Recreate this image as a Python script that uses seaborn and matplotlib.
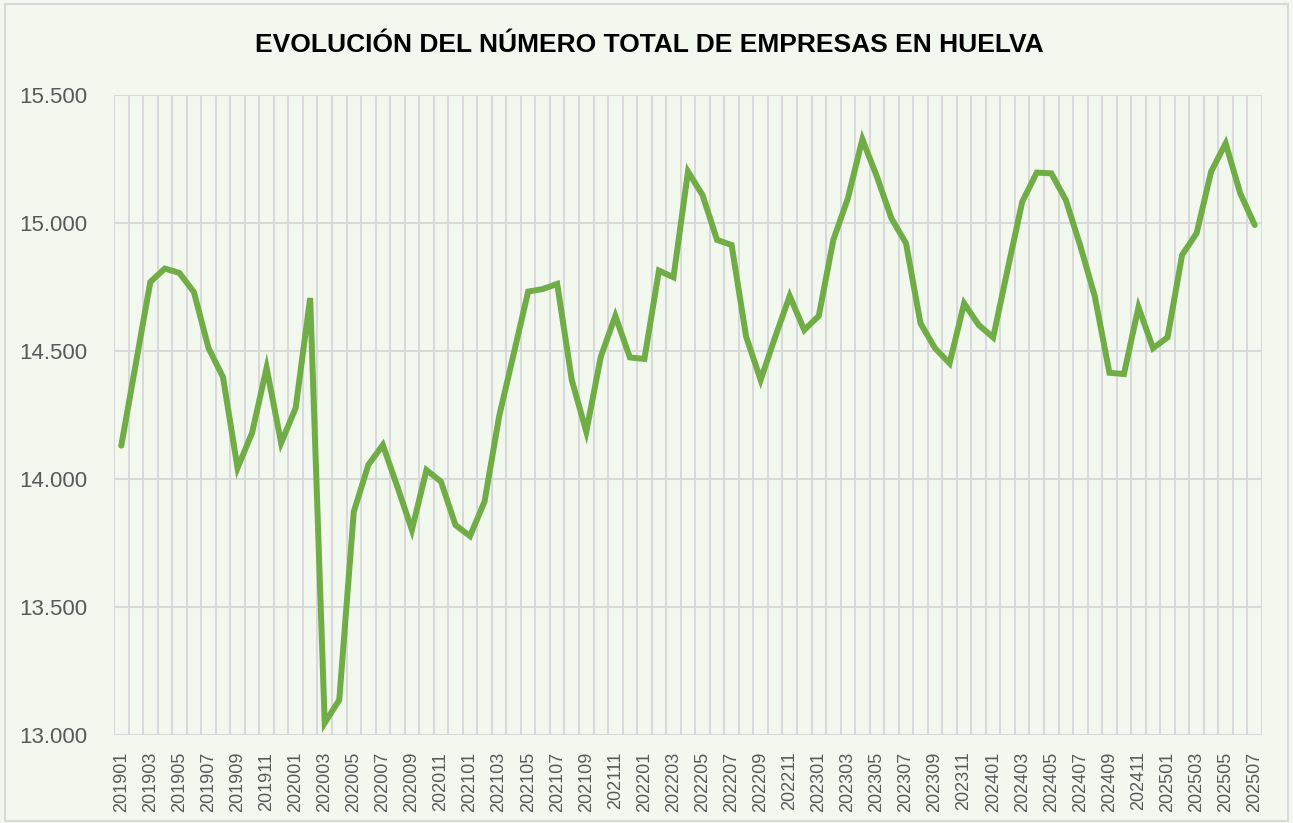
import matplotlib
matplotlib.use("Agg")
import matplotlib.pyplot as plt
from matplotlib.patches import Rectangle
from matplotlib.ticker import FixedLocator, FuncFormatter
import numpy as np
import pandas as pd
import seaborn as sns

# Monthly periods (YYYYMM) from January 2019 to July 2025
periods = [f"{y}{m:02d}" for y in range(2019, 2026) for m in range(1, 13)][:79]

# Total number of companies in Huelva, one value per month
empresas = [
    14130, 14450, 14770, 14822, 14805, 14730, 14512, 14398, 14043, 14180,
    14434, 14141, 14277, 14707, 13047, 13137, 13872, 14055, 14133, 13970,
    13801, 14035, 13990, 13820, 13777, 13912, 14244, 14488, 14732, 14742,
    14762, 14387, 14185, 14478, 14637, 14475, 14469, 14814, 14788, 15201,
    15109, 14934, 14914, 14556, 14387, 14555, 14715, 14582, 14637, 14934,
    15096, 15327, 15181, 15018, 14921, 14608, 14511, 14452, 14686, 14602,
    14553, 14820, 15083, 15197, 15194, 15090, 14910, 14712, 14415, 14410,
    14671, 14511, 14553, 14875, 14960, 15201, 15311, 15116, 14992,
]

title = "EVOLUCIÓN DEL NÚMERO TOTAL DE EMPRESAS EN HUELVA"
y_ticks = [13000, 13500, 14000, 14500, 15000, 15500]

df = pd.DataFrame({"pos": np.arange(len(periods)), "empresas": empresas})

bg = "#F3F8EF"
grid_col = "#D9D9D9"
line_col = "#70AD47"
label_col = "#595959"

sns.set_theme(style="white")
plt.rcParams["font.family"] = ["Liberation Sans Narrow", "Liberation Sans", "DejaVu Sans"]

W, H = 1293, 823
fig = plt.figure(figsize=(W / 100, H / 100), dpi=100, facecolor=bg)
ax = fig.add_axes([114 / W, 1 - 735 / H, (1262 - 114) / W, (735 - 95) / H])
ax.set_facecolor(bg)

sns.lineplot(data=df, x="pos", y="empresas", color=line_col, linewidth=4.3,
             ax=ax, zorder=3)
ax.lines[0].set_solid_joinstyle("miter")

n = len(periods)
ax.set_xlim(-0.5, n - 0.5)
ax.set_ylim(y_ticks[0], y_ticks[-1])

# Category labels every other month, gridlines at category boundaries
ax.xaxis.set_major_locator(FixedLocator(np.arange(0, n, 2)))
ax.set_xticklabels(periods[::2], rotation=90, fontsize=13, color=label_col)
ax.xaxis.set_minor_locator(FixedLocator(np.arange(n + 1) - 0.5))
ax.grid(False)
ax.grid(which="minor", axis="x", color=grid_col, linewidth=1.5, zorder=1)

ax.set_yticks(y_ticks)
ax.yaxis.set_major_formatter(FuncFormatter(lambda v, p: f"{int(v):,}".replace(",", ".")))
ax.tick_params(axis="y", labelsize=16, labelcolor=label_col, length=0, pad=19)
ax.tick_params(axis="x", which="both", length=0, pad=12)
ax.grid(which="major", axis="y", color=grid_col, linewidth=1.5, zorder=1)

ax.set_xlabel("")
ax.set_ylabel("")
for s in ax.spines.values():
    s.set_visible(False)
ax.set_axisbelow(True)

fig.text(649 / W, 1 - 45 / H, title, ha="center", va="center",
         fontsize=19, fontweight="bold", color="#000000")

# Light frame around the chart area
fig.patches.append(Rectangle((5 / W, 2 / H), (W - 10) / W, (H - 6) / H,
                             transform=fig.transFigure, fill=False,
                             edgecolor="#D9D9D9", linewidth=1.5))

fig.savefig("out.png", dpi=100, facecolor=bg)
